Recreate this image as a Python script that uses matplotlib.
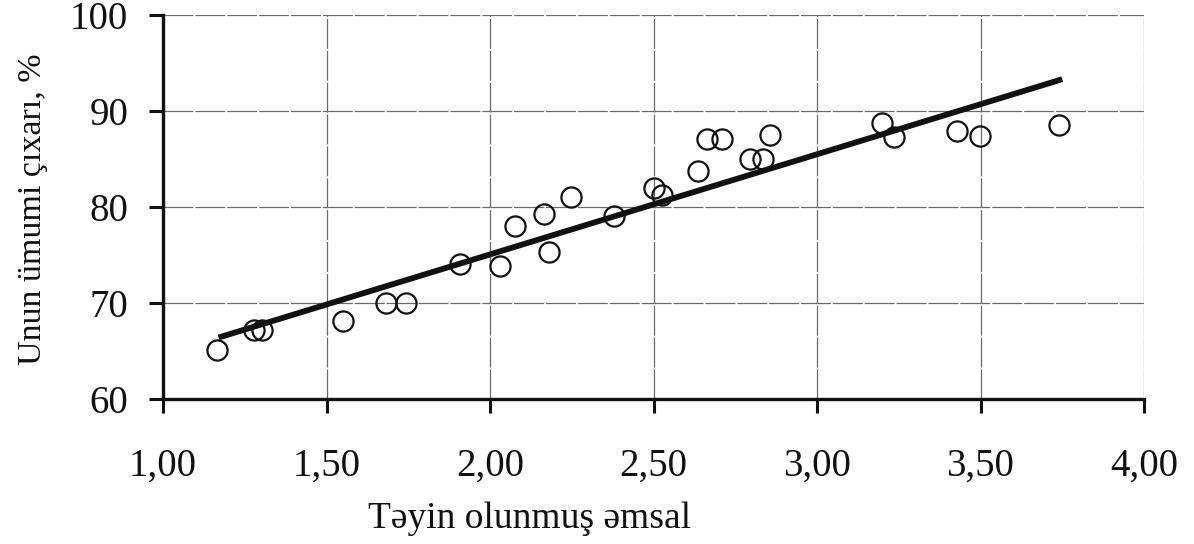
import matplotlib
matplotlib.use("Agg")
import matplotlib.pyplot as plt
import numpy as np

# Data
x_vals = [1.165, 1.278, 1.302, 1.551, 1.682, 1.743, 1.908, 2.030, 2.076, 2.166,
          2.180, 2.247, 2.380, 2.500, 2.525, 2.637, 2.663, 2.709, 2.795, 2.835,
          2.856, 3.198, 3.236, 3.428, 3.499, 3.740]
y_vals = [65.1, 67.2, 67.2, 68.1, 70.0, 70.0, 74.1, 73.9, 78.0, 79.3,
          75.3, 81.0, 79.1, 82.0, 81.3, 83.8, 87.1, 87.1, 85.0, 85.0,
          87.5, 88.8, 87.3, 87.9, 87.4, 88.5]

# Trend line (as drawn)
trend_x = [1.17, 3.75]
trend_slope = 10.43
trend_intercept = 54.2

x_ticks = [1.0, 1.5, 2.0, 2.5, 3.0, 3.5, 4.0]
x_tick_labels = ["1,00", "1,50", "2,00", "2,50", "3,00", "3,50", "4,00"]
y_ticks = [60, 70, 80, 90, 100]
y_tick_labels = ["60", "70", "80", "90", "100"]

x_label = "Təyin olunmuş əmsal"
y_label = "Unun ümumi çıxarı, %"

plt.rcParams['font.family'] = ['Liberation Serif', 'DejaVu Serif']

fig = plt.figure(figsize=(11.94, 5.44), dpi=100)
ax = fig.add_axes([163/1194, 1 - 399/544, (1144 - 163)/1194, (399 - 15)/544])

ax.set_xlim(1.0, 4.0)
ax.set_ylim(60, 100)

# grid
for xv in x_ticks[1:]:
    ax.axvline(xv, color='#6a6a6a', lw=0.9, ls=(0, (24, 1.5)), zorder=1)
for yv in y_ticks[1:]:
    ax.axhline(yv, color='#6a6a6a', lw=0.9, ls=(0, (24, 1.5)), zorder=1)

tx = np.array(trend_x)
ax.plot(tx, trend_slope * tx + trend_intercept, color='#111111', lw=4.2,
        solid_capstyle='butt', zorder=2)

ax.plot(x_vals, y_vals, linestyle='none', marker='o', markersize=14.5,
        markerfacecolor='none', markeredgecolor='#111111', markeredgewidth=1.6,
        zorder=3)

for s in ['top', 'right']:
    ax.spines[s].set_visible(False)
for s in ['left', 'bottom']:
    ax.spines[s].set_linewidth(2.4)
    ax.spines[s].set_color('#111111')

ax.set_xticks(x_ticks)
ax.set_xticklabels(x_tick_labels)
ax.set_yticks(y_ticks)
ax.set_yticklabels(y_tick_labels)
ax.tick_params(axis='both', direction='out', length=10, width=2.2,
               color='#111111', labelsize=28, labelcolor='#111111')
ax.tick_params(axis='x', pad=25)
ax.tick_params(axis='y', pad=15)

fig.text(530/1194, 1 - 519/544, x_label, ha='center', va='center',
         fontsize=27, color='#111111')
fig.text(33/1194, 1 - 209/544, y_label, ha='center', va='center',
         rotation=90, fontsize=24.5, color='#111111')

fig.savefig("out.png", dpi=100, facecolor='white')
